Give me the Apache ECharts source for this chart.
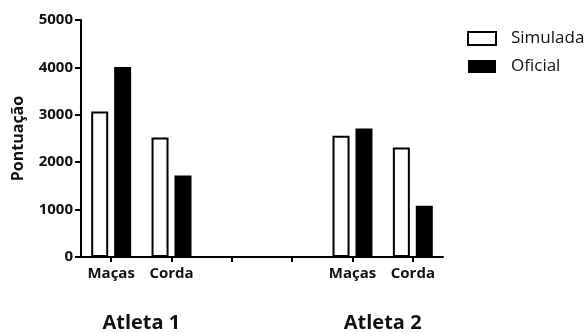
<!DOCTYPE html>
<html>
<head>
<meta charset="utf-8">
<script src="https://cdn.jsdelivr.net/npm/echarts@6/dist/echarts.min.js"></script>
<style>html,body{margin:0;padding:0;background:#fff;}#c{width:588px;height:333px;}</style>
</head>
<body>
<div id="c"></div>
<script>
const categories = ['Maças', 'Corda', '', '', 'Maças', 'Corda'];
const groupLabels = ['Atleta 1', 'Atleta 2'];
const simulada = [3070, 2520, null, null, 2560, 2310];
const oficial = [4010, 1720, null, null, 2710, 1080];
const seriesNames = ['Simulada', 'Oficial'];

const FONT = '"Open Sans", "Liberation Sans", sans-serif';
const chart = echarts.init(document.getElementById('c'), null, {renderer: 'canvas'});
chart.setOption({
  animation: false,
  backgroundColor: '#fff',
  grid: {left: 81, right: 145, top: 20, bottom: 70, containLabel: false},
  legend: {
    orient: 'vertical', left: 462, top: 25, padding: 5,
    itemWidth: 28, itemHeight: 13, itemGap: 11,
    icon: 'rect',
    data: seriesNames,
    textStyle: {fontSize: 17, fontFamily: FONT, color: '#111', padding: [0, 0, 0, 10]}
  },
  xAxis: [{
    type: 'category', data: categories, boundaryGap: true,
    axisLine: {show: true, onZero: false, lineStyle: {color: '#000', width: 2}},
    axisTick: {show: true, alignWithLabel: true, interval: 0, length: 5, lineStyle: {color: '#000', width: 2}},
    axisLabel: {interval: 0, margin: 9, fontSize: 15, fontWeight: 'bold', fontFamily: FONT, color: '#111'}
  }, {
    type: 'value', position: 'bottom', offset: 50, min: -0.5, max: 5.5, interval: 0.5,
    axisLine: {show: false, onZero: false}, axisTick: {show: false}, splitLine: {show: false},
    axisLabel: {
      margin: 6, fontSize: 20, fontWeight: 'bold', fontFamily: FONT, color: '#111',
      showMinLabel: true, showMaxLabel: true,
      formatter: function (v) {
        if (Math.abs(v - 0.5) < 1e-6) return groupLabels[0];
        if (Math.abs(v - 4.5) < 1e-6) return groupLabels[1];
        return '';
      }
    }
  }],
  yAxis: {
    type: 'value', min: 0, max: 5000, interval: 1000,
    name: 'Pontuação', nameLocation: 'middle', nameGap: 55, nameRotate: 90,
    nameTextStyle: {fontSize: 16, fontWeight: 'bold', fontFamily: FONT, color: '#111'},
    axisLine: {show: true, onZero: false, lineStyle: {color: '#000', width: 2}},
    axisTick: {show: true, inside: false, length: 6, lineStyle: {color: '#000', width: 2}},
    splitLine: {show: false},
    axisLabel: {margin: 8, fontSize: 15, fontWeight: 'bold', fontFamily: FONT, color: '#111',
      formatter: function (v) { return String(v); }}
  },
  series: [{
    name: seriesNames[0], type: 'bar', data: simulada, barWidth: 17, barGap: '35%',
    itemStyle: {color: '#fff', borderColor: '#000', borderWidth: 2}
  }, {
    name: seriesNames[1], type: 'bar', data: oficial, barWidth: 17,
    itemStyle: {color: '#000', borderColor: '#000', borderWidth: 0}
  }]
});
</script>
</body>
</html>
